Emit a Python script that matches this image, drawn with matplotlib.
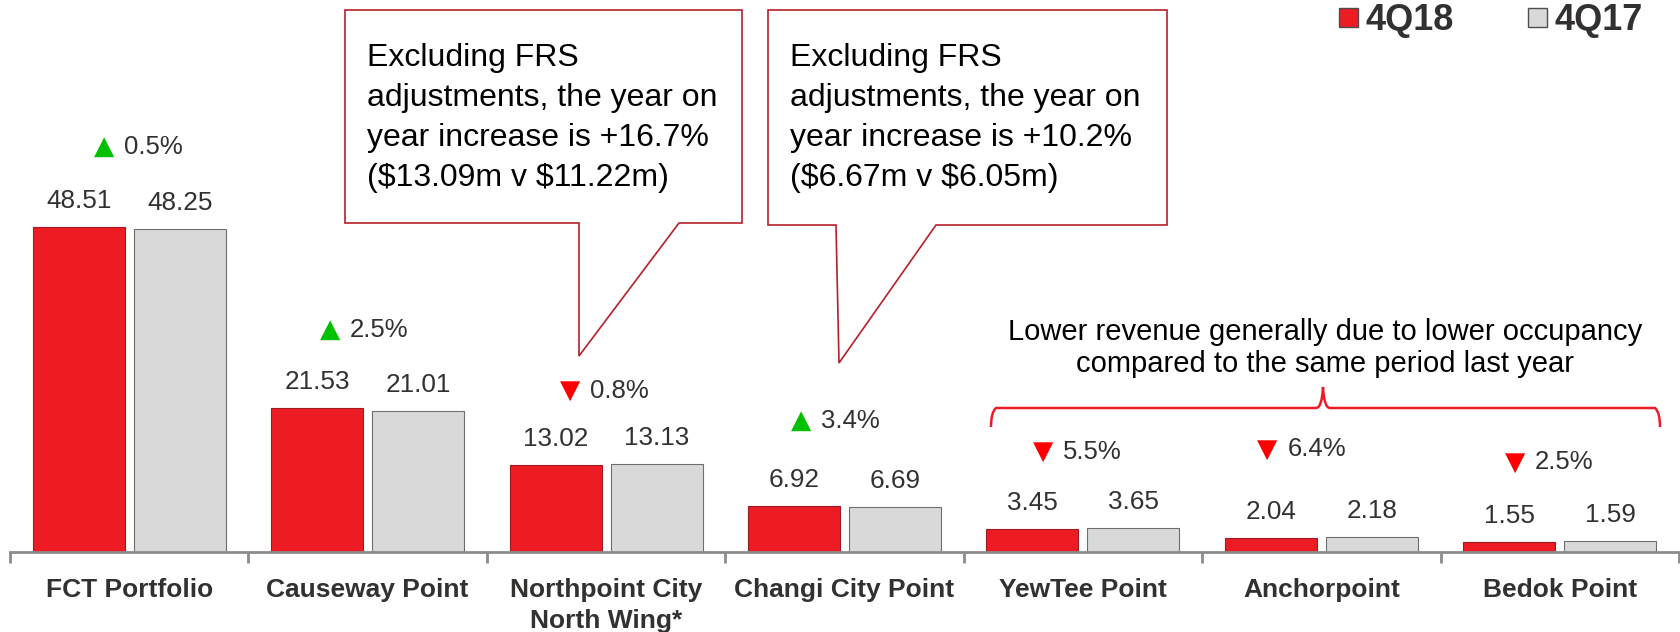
import numpy as np
import matplotlib.pyplot as plt
from matplotlib.patches import Polygon, Rectangle, PathPatch
from matplotlib.path import Path

plt.rcParams['font.family'] = ['Liberation Sans', 'DejaVu Sans']

# ─── DATA ───────────────────────────────────────────────────────────────────
categories = ['FCT Portfolio', 'Causeway Point', 'Northpoint City\nNorth Wing*',
              'Changi City Point', 'YewTee Point', 'Anchorpoint', 'Bedok Point']
q418 = [48.51, 21.53, 13.02, 6.92, 3.45, 2.04, 1.55]
q417 = [48.25, 21.01, 13.13, 6.69, 3.65, 2.18, 1.59]
pct_change = ['0.5%', '2.5%', '0.8%', '3.4%', '5.5%', '6.4%', '2.5%']
pct_up = [True, True, False, True, False, False, False]

callout_texts = ['Excluding FRS\nadjustments, the year on\nyear increase is +16.7%\n(\\$13.09m v \\$11.22m)',
                 'Excluding FRS\nadjustments, the year on\nyear increase is +10.2%\n(\\$6.67m v \\$6.05m)']
bracket_text = 'Lower revenue generally due to lower occupancy\ncompared to the same period last year'

# label placement tweaks (pixels)
pct_dy = [80, 78, 73, 85, 76, 88, 79]
pct_dx = [-25, -38, -36, -43, -40, -54, -45]

RED = '#ed1c24'
GREY = '#d9d9d9'
DARK = '#333030'
W, H = 1681, 632

fig = plt.figure(figsize=(W / 100, H / 100), dpi=100)
ax = fig.add_axes([10 / W, 80 / H, 1669 / W, 552 / H])

x = np.arange(len(categories))
bw = 0.386
off = 0.212
ax.bar(x - off, q418, bw, color=RED, edgecolor='#a01a1f', linewidth=0.8)
ax.bar(x + off, q417, bw, color=GREY, edgecolor='#6e6e6e', linewidth=0.8)

ax.set_xlim(-0.5, len(categories) - 0.5)
ax.set_ylim(0, 82.4)

for s in ['top', 'right', 'left']:
    ax.spines[s].set_visible(False)
ax.spines['bottom'].set_color('#8c8c8c')
ax.spines['bottom'].set_linewidth(2)
ax.set_yticks([])
ax.set_xticks(x)
ax.set_xticklabels(categories, fontsize=19, fontweight='bold', color=DARK, linespacing=1.35)
ax.tick_params(axis='x', which='major', length=0, pad=19)
ax.set_xticks(np.arange(-0.5, len(categories)), minor=True)
ax.tick_params(axis='x', which='minor', length=8, width=2, color='#8c8c8c')

# value labels
for i in range(len(categories)):
    ax.annotate(f'{q418[i]:.2f}', (x[i] - off, q418[i]), textcoords='offset pixels',
                xytext=(0, 26), ha='center', va='center', fontsize=18.8, color=DARK)
    ax.annotate(f'{q417[i]:.2f}', (x[i] + off, q417[i]), textcoords='offset pixels',
                xytext=(0, 26), ha='center', va='center', fontsize=18.8, color=DARK)

# percent change labels
for i in range(len(categories)):
    top = max(q418[i], q417[i])
    sym = '▲' if pct_up[i] else '▼'
    col = '#00c000' if pct_up[i] else '#ff0000'
    ax.annotate(sym, (x[i], top), textcoords='offset pixels',
                xytext=(pct_dx[i], pct_dy[i]), ha='center', va='center',
                fontsize=19, color=col, family='DejaVu Sans')
    ax.annotate(pct_change[i], (x[i], top), textcoords='offset pixels',
                xytext=(pct_dx[i] + 20, pct_dy[i]), ha='left', va='center',
                fontsize=18.5, color=DARK)


def fp(px, py):
    return (px / W, 1 - py / H)


# callout boxes
boxes = [
    [(345, 10), (742, 10), (742, 223), (679, 223), (579, 356), (579, 223), (345, 223)],
    [(768, 10), (1167, 10), (1167, 225), (936, 225), (839, 363), (836, 225), (768, 225)],
]
text_x = [367, 790]
for pts, tx, txt in zip(boxes, text_x, callout_texts):
    poly = Polygon([fp(*p) for p in pts], closed=True, transform=fig.transFigure,
                   facecolor='white', edgecolor='#b5202a', linewidth=1.2)
    fig.patches.append(poly)
    fig.text(tx / W, 1 - 43 / H, txt, fontsize=23, color='black', ha='left', va='top',
             linespacing=1.43)

# bracket
verts = [fp(991, 427), fp(991, 412), fp(996, 408), fp(1316, 408),
         fp(1322, 408), fp(1323, 387), fp(1324, 408), fp(1330, 408),
         fp(1655, 408), fp(1660, 412), fp(1660, 427)]
codes = [Path.MOVETO, Path.CURVE3, Path.CURVE3, Path.LINETO,
         Path.CURVE3, Path.CURVE3, Path.CURVE3, Path.CURVE3,
         Path.LINETO, Path.CURVE3, Path.CURVE3]
fig.patches.append(PathPatch(Path(verts, codes), transform=fig.transFigure,
                             facecolor='none', edgecolor=RED, linewidth=1.8))
fig.text(1325 / W, 1 - 348 / H, bracket_text, fontsize=21, color='black',
         ha='center', va='center', linespacing=1.22)

# legend
for sx, col, lab in [(1339, RED, '4Q18'), (1528, GREY, '4Q17')]:
    fig.patches.append(Rectangle(fp(sx, 27), 19 / W, 19 / H, transform=fig.transFigure,
                                 facecolor=col, edgecolor='#4d4d4d', linewidth=1))
    fig.text((sx + 27) / W, 1 - 30 / H, lab, fontsize=26, fontweight='bold',
             color=DARK, ha='left', va='baseline')

plt.savefig('out.png', dpi=100)
